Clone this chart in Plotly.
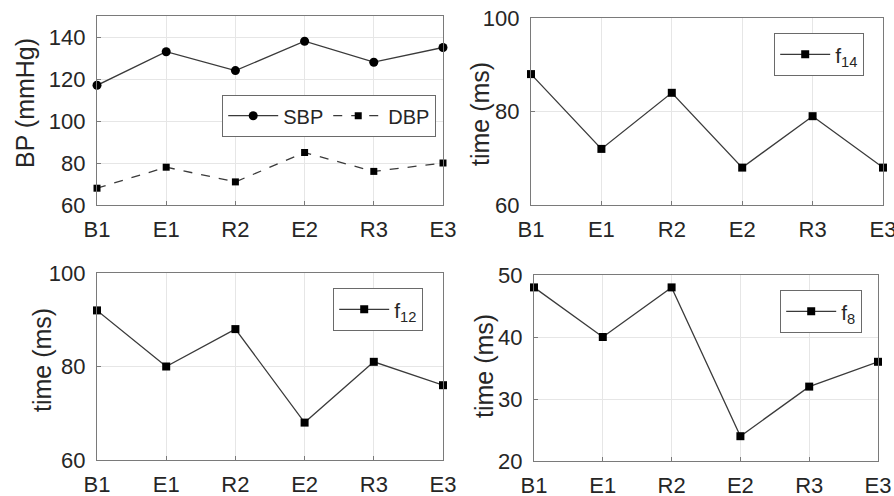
import plotly.graph_objects as go

categories = ["B1", "E1", "R2", "E2", "R3", "E3"]
sbp = [117, 133, 124, 138, 128, 135]
dbp = [68, 78, 71, 85, 76, 80]
f14 = [88, 72, 84, 68, 79, 68]
f12 = [92, 80, 88, 68, 81, 76]
f8 = [48, 40, 48, 24, 32, 36]

W, H = 894, 496
TXT = "#262626"
LINE = "#3a3a3a"
FONT = "Liberation Sans, Arial, sans-serif"
FS = 22

fig = go.Figure()

def px_x(v):
    return v / W

def px_y(v):
    return 1 - v / H

# panel boxes in page pixels: (left, right, top, bottom)
panels = [
    (97, 443, 16, 205),
    (531, 883, 18, 205),
    (97, 443, 273, 460),
    (534, 878, 275, 461),
]
yranges = [[60, 150], [60, 100], [60, 100], [20, 50]]
ytick_vals = [[60, 80, 100, 120, 140], [60, 80, 100], [60, 80, 100], [20, 30, 40, 50]]
ytitles = ["BP (mmHg)", "time (ms)", "time (ms)", "time (ms)"]
# centre of each y title, page pixels
title_pos = [(25, 103), (480, 114), (42, 360), (484, 366)]

for i, (x0, x1, yt, yb) in enumerate(panels):
    n = "" if i == 0 else str(i + 1)
    fig.layout["xaxis" + n] = dict(
        domain=[px_x(x0), px_x(x1)],
        anchor="y" + n,
        type="category",
        categoryorder="array",
        categoryarray=categories,
        range=[0, len(categories) - 1],
        automargin=False,
        showline=True, linecolor="#7a7a7a", linewidth=1.2, mirror=True,
        showgrid=True, gridcolor="#e6e6e6", gridwidth=1,
        ticks="inside", ticklen=4, tickcolor="#7a7a7a",
        ticklabelstandoff=4, ticklabeloverflow="allow",
        tickfont=dict(family=FONT, size=FS, color=TXT),
        zeroline=False,
    )
    fig.layout["yaxis" + n] = dict(
        domain=[px_y(yb), px_y(yt)],
        anchor="x" + n,
        range=yranges[i],
        tickvals=ytick_vals[i],
        automargin=False,
        showline=True, linecolor="#7a7a7a", linewidth=1.2, mirror=True,
        showgrid=True, gridcolor="#e6e6e6", gridwidth=1,
        ticks="inside", ticklen=4, tickcolor="#7a7a7a",
        ticklabelstandoff=6, ticklabeloverflow="allow",
        tickfont=dict(family=FONT, size=FS, color=TXT),
        zeroline=False,
    )
    tx, ty = title_pos[i]
    fig.add_annotation(
        text=ytitles[i], xref="paper", yref="paper",
        x=px_x(tx), y=px_y(ty), xanchor="center", yanchor="middle",
        textangle=-90, showarrow=False,
        font=dict(family=FONT, size=25, color=TXT),
    )

# Panel 1: SBP and DBP
fig.add_trace(go.Scatter(
    x=categories, y=sbp, name="SBP", mode="lines+markers",
    line=dict(color=LINE, width=1.3),
    marker=dict(symbol="circle", size=9, color="black"),
    xaxis="x", yaxis="y", legend="legend", cliponaxis=False,
))
fig.add_trace(go.Scatter(
    x=categories, y=dbp, name="DBP", mode="lines+markers",
    line=dict(color=LINE, width=1.3, dash="dash"),
    marker=dict(symbol="square", size=7, color="black"),
    xaxis="x", yaxis="y", legend="legend", cliponaxis=False,
))

series = [("f<sub>14</sub>", f14), ("f<sub>12</sub>", f12), ("f<sub>8</sub>", f8)]
for k, (name, vals) in enumerate(series):
    n = str(k + 2)
    fig.add_trace(go.Scatter(
        x=categories, y=vals, name=name, mode="lines+markers",
        line=dict(color=LINE, width=1.3),
        marker=dict(symbol="square", size=8, color="black"),
        xaxis="x" + n, yaxis="y" + n, legend="legend" + n, cliponaxis=False,
    ))

legend_common = dict(
    bgcolor="white", bordercolor="#6a6a6a", borderwidth=1.2,
    xanchor="right", yanchor="top",
    itemclick=False, itemdoubleclick=False,
    itemwidth=50,
)
sub_font = dict(family=FONT, size=21, color=TXT)
# legend boxes (right, top) in page pixels
fig.update_layout(
    legend=dict(**legend_common, x=px_x(436), y=px_y(95), orientation="h",
                tracegroupgap=0, font=dict(family=FONT, size=20, color=TXT)),
    legend2=dict(**legend_common, x=px_x(864), y=px_y(33), font=sub_font),
    legend3=dict(**legend_common, x=px_x(423), y=px_y(288), font=sub_font),
    legend4=dict(**legend_common, x=px_x(862), y=px_y(290), font=sub_font),
)

fig.update_layout(
    width=W, height=H,
    margin=dict(l=0, r=0, t=0, b=0),
    paper_bgcolor="white", plot_bgcolor="white",
    showlegend=True,
    hovermode=False,
)

fig.write_html(
    "out.html",
    config={"displayModeBar": False},
    post_script="document.body.style.margin='0';document.body.style.overflow='hidden';",
)
